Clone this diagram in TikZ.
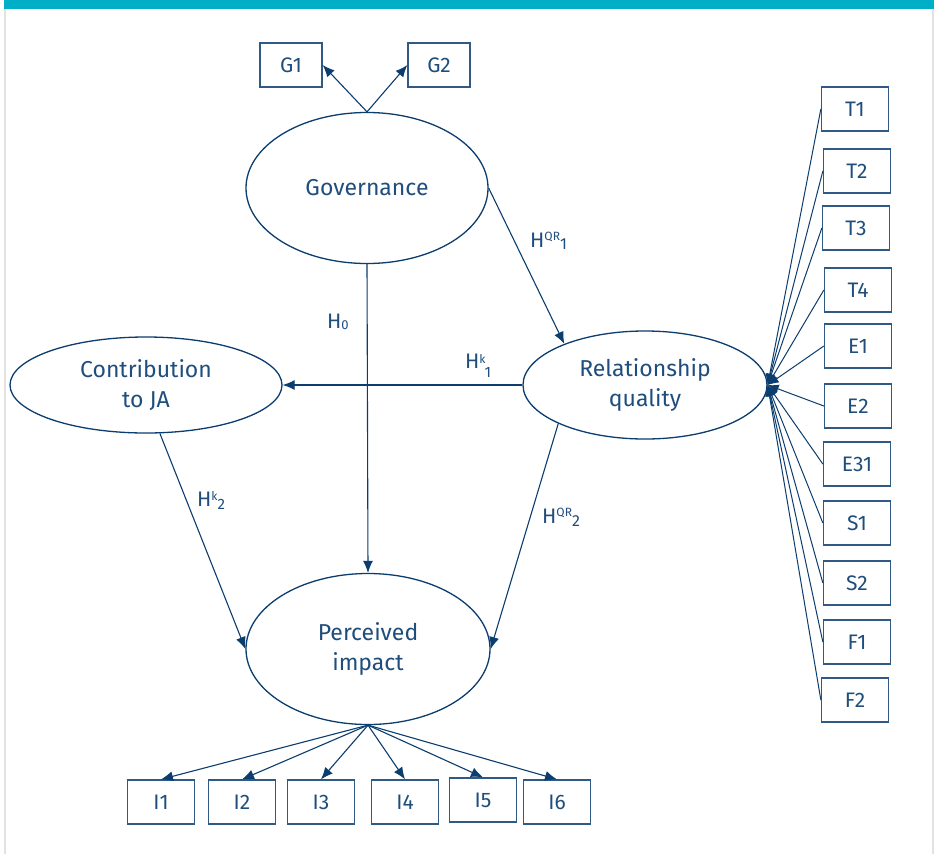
\documentclass[tikz,border=0pt]{standalone}
\usepackage{fontspec}
\setmainfont{Fira Sans}
\usetikzlibrary{arrows.meta,shapes.geometric}
\definecolor{ln}{HTML}{0B3D6F}
\definecolor{tx}{HTML}{1F4E7D}
\definecolor{topbar}{HTML}{00AEC8}
\definecolor{framegray}{HTML}{E2E2E2}
\newcommand\hlab[5]{H\raisebox{#2pt}{\fontsize{12}{12}\selectfont #1}\raisebox{-#4pt}{\fontsize{#5}{#5}\selectfont #3}}
\begin{document}
\begin{tikzpicture}[x=1pt,y=-1pt,
  mainfont/.style={font=\fontsize{21}{28}\selectfont},
  latfont/.style={font=\fontsize{23}{29.5}\selectfont},
  obs/.style={draw=ln!85, line width=1.3pt, minimum width=67pt, minimum height=44pt, inner sep=0pt, text=tx, mainfont},
  lat/.style={draw=ln, line width=1.3pt, ellipse, inner sep=0pt, text=tx, latfont, align=center},
  arr/.style={draw=ln, line width=1.1pt, -{Latex[length=12pt,width=10pt]}},
  fan/.style={draw=ln, line width=1pt, -{Latex[length=11pt,width=9pt]}},
  hl/.style={text=tx, mainfont, anchor=base west, inner sep=0pt}]
\useasboundingbox (0,0) rectangle (936,854);
\fill[white] (0,0) rectangle (936,854);
\draw[framegray, line width=2pt] (5,0) -- (5,854) (933,0) -- (933,854);
\fill[topbar] (4,0) rectangle (934,9);

% latent variables
\node[lat, minimum width=242pt, minimum height=151pt] (gov) at (367,188) {Governance};
\node[lat, minimum width=272pt, minimum height=96pt] (con) at (146,385) {Contribution\\to JA};
\node[lat, minimum width=244pt, minimum height=108pt] (rq) at (645,385) {Relationship\\quality};
\node[lat, minimum width=244pt, minimum height=151pt] (pi) at (368,649) {Perceived\\impact};

% governance indicators
\node[obs, minimum width=62pt] (g1) at (291,65) {G1};
\node[obs, minimum width=62pt] (g2) at (439,65) {G2};
\draw[arr] (gov.north) -- (g1.east);
\draw[arr] (gov.north) -- (g2.west);

% relationship quality indicators
\node[obs] (t1) at (855,109) {T1};
\node[obs] (t2) at (857,171) {T2};
\node[obs] (t3) at (856,228) {T3};
\node[obs] (t4) at (858,290) {T4};
\node[obs] (e1) at (858,346) {E1};
\node[obs] (e2) at (858,406) {E2};
\node[obs] (e31) at (857,464) {E31};
\node[obs] (s1) at (857,523) {S1};
\node[obs] (s2) at (857,583) {S2};
\node[obs] (f1) at (857,642) {F1};
\node[obs] (f2) at (855,700) {F2};
\foreach \b in {t1,t2,t3,t4,e1,e2,e31,s1,s2,f1,f2}
  \draw[fan] (\b.west) -- (rq.east);

% impact indicators
\node[obs] (i1) at (161,802) {I1};
\node[obs] (i2) at (242,802) {I2};
\node[obs] (i3) at (321,802) {I3};
\node[obs] (i4) at (405,802) {I4};
\node[obs] (i5) at (483,800) {I5};
\node[obs] (i6) at (557,802) {I6};
\foreach \b in {i1,i2,i3,i4,i5,i6}
  \draw[arr] (pi.south) -- (\b.north);

% structural paths
\draw[arr] (gov.east) -- (rq.153);
\draw[arr] (gov.south) -- (pi.north);
\draw[arr] (rq.west) -- (con.east);
\draw[arr] (con.-74) -- (pi.west);
\draw[arr] (rq.-156) -- (pi.east);

% path labels
\node[hl] (lqr1) at (530,247) {\hlab{QR}{7}{1}{2}{16}};
\node[hl] (lh0) at (327,328) {H\raisebox{-1pt}{\fontsize{13}{13}\selectfont 0}};
\node[hl] (lk1) at (465,368) {\hlab{k}{5}{\kern-1pt 1}{9}{15}};
\node[hl] (lk2) at (197,506) {\hlab{k}{6}{2}{3}{15}};
\node[hl] (lqr2) at (542,523) {\hlab{QR}{7}{2}{3}{16}};
\end{tikzpicture}
\end{document}
